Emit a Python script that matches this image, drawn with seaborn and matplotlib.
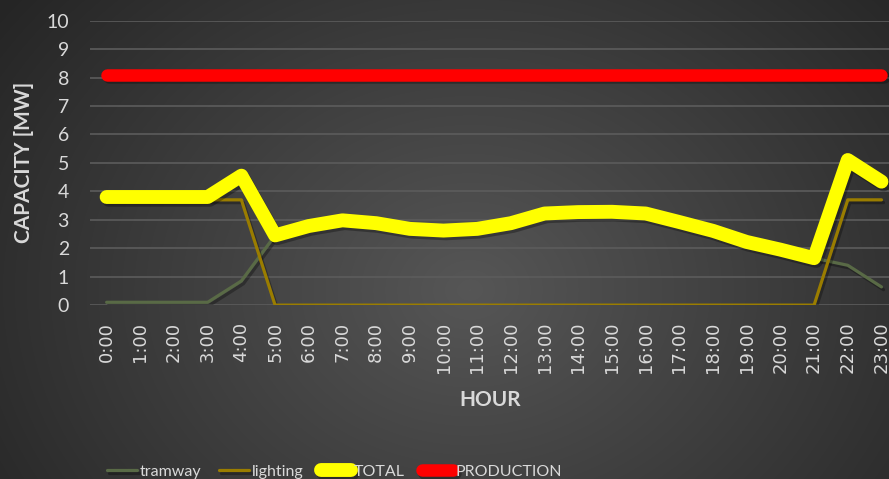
import numpy as np
import pandas as pd
import seaborn as sns
import matplotlib.pyplot as plt
import matplotlib.patheffects as pe

# data
hours = ['0:00', '1:00', '2:00', '3:00', '4:00', '5:00', '6:00', '7:00', '8:00', '9:00',
         '10:00', '11:00', '12:00', '13:00', '14:00', '15:00', '16:00', '17:00', '18:00',
         '19:00', '20:00', '21:00', '22:00', '23:00']
tramway = [0.1, 0.1, 0.1, 0.1, 0.85, 2.45, 2.78, 2.98, 2.88, 2.68, 2.62, 2.68, 2.88, 3.22,
           3.27, 3.28, 3.22, 2.92, 2.61, 2.22, 1.95, 1.65, 1.4, 0.64]
lighting = [3.7, 3.7, 3.7, 3.7, 3.7, 0, 0, 0, 0, 0, 0, 0, 0, 0, 0, 0, 0, 0, 0, 0, 0,
            0, 3.7, 3.7]
total = [3.8, 3.8, 3.8, 3.8, 4.55, 2.45, 2.78, 2.98, 2.88, 2.68, 2.62, 2.68, 2.88, 3.22,
         3.27, 3.28, 3.22, 2.92, 2.61, 2.22, 1.95, 1.65, 5.1, 4.34]
production = [8.1] * 24

TXT = '#d9d9d9'

sns.set_style('dark', {'axes.facecolor': 'none', 'grid.color': '#5c5c5c'})
plt.rcParams['font.family'] = ['Lato', 'DejaVu Sans']

df = pd.DataFrame({'pos': np.arange(len(hours)), 'tramway': tramway, 'lighting': lighting,
                   'TOTAL': total, 'PRODUCTION': production})

fig = plt.figure(figsize=(8.89, 4.79), dpi=100)

# radial gradient background
bg = fig.add_axes([0, 0, 1, 1], zorder=-10)
yy, xx = np.mgrid[0:479, 0:889]
r = np.sqrt(((xx - 470) / 520.0) ** 2 + ((yy - 290) / 420.0) ** 2)
shade = np.clip(0.34 - 0.17 * r, 0.15, 0.34)
bg.imshow(shade, cmap='gray', vmin=0, vmax=1, aspect='auto', extent=[0, 1, 0, 1],
          origin='upper')
bg.axis('off')

ax = fig.add_axes([0.101, 0.363, 0.90, 0.594])
shadow = [pe.SimpleLineShadow(offset=(1.5, -2), shadow_color='black', alpha=0.3), pe.Normal()]

sns.lineplot(data=df, x='pos', y='tramway', color='#596a46', linewidth=2.3, label='tramway', ax=ax)
sns.lineplot(data=df, x='pos', y='lighting', color='#9a7d00', linewidth=2.3, label='lighting', ax=ax)
sns.lineplot(data=df, x='pos', y='TOTAL', color='#ffff00', linewidth=10, label='TOTAL', ax=ax)
sns.lineplot(data=df, x='pos', y='PRODUCTION', color='#ff0000', linewidth=9, label='PRODUCTION', ax=ax)

for ln in ax.get_lines():
    ln.set_solid_capstyle('round')
    ln.set_solid_joinstyle('round')
    ln.set_path_effects(shadow)

ax.set_ylim(0, 10)
ax.set_xlim(-0.5, 23.25)
ax.set_yticks(range(0, 11))
ax.set_yticklabels([str(v) for v in range(0, 11)], color=TXT, fontsize=14)
ax.set_xticks(df['pos'])
ax.set_xticklabels(hours, rotation=90, color=TXT, fontsize=13, family=['DejaVu Sans'],
                   va='top')
ax.tick_params(axis='y', length=0, pad=15)
ax.tick_params(axis='x', length=0, pad=12)
ax.grid(axis='y', color='#5c5c5c', linewidth=1.2)
ax.grid(axis='x', visible=False)
for s in ax.spines.values():
    s.set_visible(False)

ax.set_ylabel('CAPACITY [MW]', color=TXT, fontsize=15, fontweight='bold')
ax.set_xlabel('HOUR', color=TXT, fontsize=15, fontweight='bold', labelpad=12)
ax.yaxis.set_label_coords(-0.07, 0.5)

handles, labels = ax.get_legend_handles_labels()
ax.get_legend().remove()
leg = fig.legend(handles, labels, loc='lower center', bbox_to_anchor=(0.376, -0.03), ncol=4,
                 frameon=False, fontsize=11.5, handlelength=1.9, handletextpad=0.15,
                 columnspacing=1.1)
for t in leg.get_texts():
    t.set_color(TXT)

fig.savefig('out.png', dpi=100)
